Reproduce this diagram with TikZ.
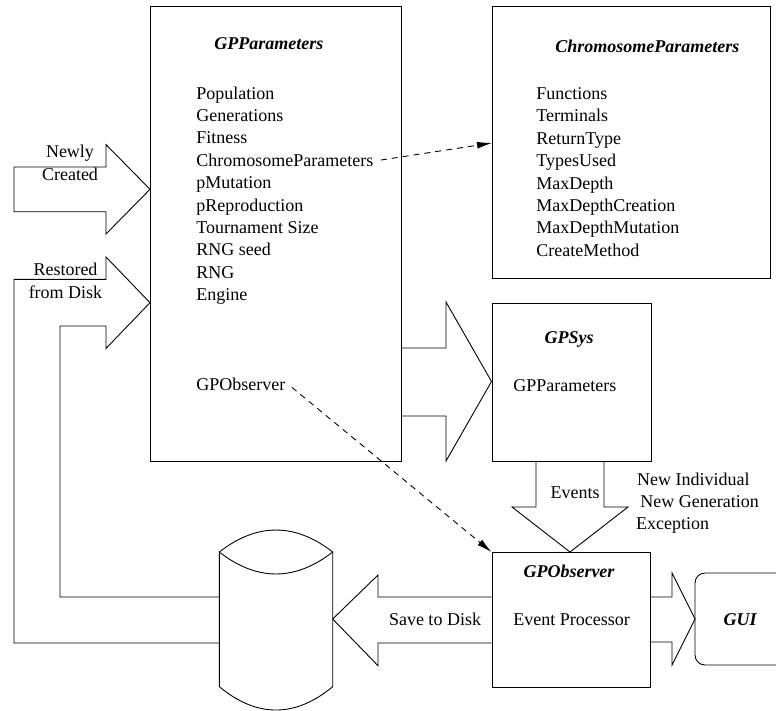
\documentclass[tikz,border=0pt]{standalone}
\usepackage{fontspec}
\setmainfont{Liberation Serif}
\usetikzlibrary{arrows.meta}
\begin{document}
\begin{tikzpicture}[x=1pt,y=-1pt, line width=0.9pt,
  every node/.style={inner sep=0pt, font=\fontsize{18}{22.4}\selectfont},
  panel/.style={draw, anchor=north west, rectangle},
  item/.style={anchor=base west},
  heading/.style={anchor=base west, font=\fontsize{18}{22.4}\selectfont\bfseries\itshape},
  fat/.style={draw, line join=miter},
  link/.style={dash pattern=on 6pt off 5pt, -{Latex[length=15pt,width=7pt]}}]
\useasboundingbox (0,0) rectangle (776,710);

% the four boxes and the GUI panel
\node[panel, minimum width=251pt, minimum height=455pt] (gpp) at (150,6) {};
\node[panel, minimum width=278pt, minimum height=272pt] (cp) at (492,6) {};
\node[panel, minimum width=159pt, minimum height=158pt] (sys) at (491.5,303) {};
\node[panel, minimum width=158pt, minimum height=135pt] (obs) at (491.5,552) {};
\draw[rounded corners=10pt] (800,573) -- (695,573) -- (695,665) -- (800,665);

% GPParameters contents
\node[heading] (gpptitle) at (214,49) {GPParameters};
\foreach \t [count=\i] in {Population,Generations,Fitness,ChromosomeParameters,pMutation,pReproduction,Tournament Size,RNG seed,RNG,Engine}
  \node[item] (gp\i) at (196,{99+(\i-1)*22.4}) {\t};
\node[item] (gpobs) at (196,390.5) {GPObserver};

% ChromosomeParameters contents
\node[heading] (cptitle) at (555,52) {ChromosomeParameters};
\foreach \t [count=\i] in {Functions,Terminals,ReturnType,TypesUsed,MaxDepth,MaxDepthCreation,MaxDepthMutation,CreateMethod}
  \node[item] (cp\i) at (536,{99.5+(\i-1)*22.4}) {\t};

% GPSys, GPObserver and GUI contents
\node[heading, anchor=base] (systitle) at (569,343) {GPSys};
\node[item] (sysparam) at (513,391.5) {GPParameters};
\node[heading, anchor=base] (obstitle) at (569,577) {GPObserver};
\node[item] (obsproc) at (513,625) {Event Processor};
\node[heading, anchor=base] (guititle) at (740,625) {GUI};

% block arrow: newly created
\draw[fat] (14,167) -- (106,167) -- (106,144.6) -- (150,189.3) -- (106,234) -- (106,211.7) -- (14,211.7) -- cycle;
\node[align=center, anchor=base] (newly) at (70,180) {Newly\\Created};

% block arrow: restored from disk, coming round from the store
\draw[fat] (219.3,643) -- (14,643) -- (14,279.3) -- (106,279.3) -- (106,257) -- (150,302.7) -- (106,348.4) -- (106,326) -- (60,326) -- (60,597) -- (219.3,597);
\node[align=center, anchor=base] (restored) at (65.5,298.3) {Restored\\from Disk};

% block arrow: GPParameters into GPSys
\draw[fat] (401,348) -- (446,348) -- (446,302) -- (491.5,381.5) -- (446,461) -- (446,416) -- (401,416);

% block arrow: events down to the observer
\draw[fat] (536,461) -- (536,507) -- (512,507) -- (570,552) -- (628,507) -- (604,507) -- (604,461);
\node[anchor=base] (events) at (575,498) {Events};
\node[item] (ev1) at (636.7,485) {New Individual};
\node[item] (ev2) at (640,507) {New Generation};
\node[item] (ev3) at (635.7,529) {Exception};

% block arrow: save to disk
\draw[fat] (491.5,597) -- (378,597) -- (378,575) -- (332.7,619) -- (378,665.7) -- (378,643) -- (491.5,643);
\node[anchor=base] (save) at (435,625) {Save to Disk};

% block arrow: observer to GUI
\draw[fat] (650,597) -- (672,597) -- (672,573) -- (695,619) -- (672,665) -- (672,642) -- (650,642);

% disk store
\draw (219.3,552) .. controls (257,522.7) and (295,522.7) .. (332.7,552)
      .. controls (295,581.3) and (257,581.3) .. (219.3,552)
      -- (219.3,686.7) .. controls (257,717.8) and (295,717.8) .. (332.7,686.7)
      -- (332.7,552);

% references
\coordinate (cpin) at (492,143);
\draw[link] ([xshift=7pt]gp4.east) -- (cpin);
\draw[link] ([xshift=6pt,yshift=-3pt]gpobs.east) -- (obs.north west);
\end{tikzpicture}
\end{document}
